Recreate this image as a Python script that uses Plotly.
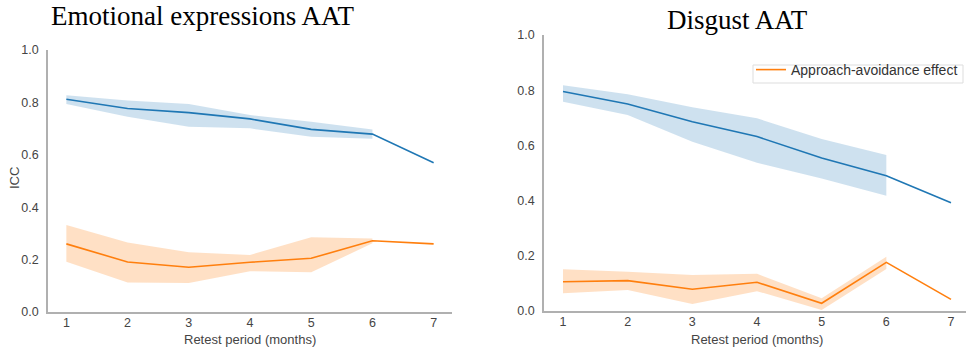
import plotly.graph_objects as go

months = [1, 2, 3, 4, 5, 6, 7]
band_months = [1, 2, 3, 4, 5, 6]

# Emotional expressions AAT
emo_blue = [0.812, 0.777, 0.761, 0.737, 0.697, 0.679, 0.570]
emo_blue_hi = [0.827, 0.807, 0.794, 0.752, 0.726, 0.697]
emo_blue_lo = [0.794, 0.745, 0.707, 0.701, 0.669, 0.661]
emo_orange = [0.260, 0.191, 0.171, 0.190, 0.205, 0.272, 0.260]
emo_orange_hi = [0.332, 0.265, 0.228, 0.218, 0.285, 0.281]
emo_orange_lo = [0.192, 0.113, 0.111, 0.156, 0.152, 0.262]

# Disgust AAT
dis_blue = [0.795, 0.750, 0.686, 0.632, 0.554, 0.490, 0.392]
dis_blue_hi = [0.818, 0.785, 0.738, 0.698, 0.623, 0.565]
dis_blue_lo = [0.758, 0.710, 0.613, 0.537, 0.480, 0.418]
dis_orange = [0.106, 0.110, 0.079, 0.104, 0.028, 0.176, 0.042]
dis_orange_hi = [0.151, 0.142, 0.130, 0.135, 0.046, 0.197]
dis_orange_lo = [0.064, 0.076, 0.025, 0.072, 0.004, 0.152]

yticks = [0.0, 0.2, 0.4, 0.6, 0.8, 1.0]
titles = ["Emotional expressions AAT", "Disgust AAT"]
xlabel = "Retest period (months)"
ylabel = "ICC"
legend_label = "Approach-avoidance effect"

BLUE = "#1f77b4"
ORANGE = "#ff7f0e"
BLUE_FILL = "rgba(31,119,180,0.22)"
ORANGE_FILL = "rgba(255,127,14,0.24)"

fig = go.Figure()


def add_band(xa, ya, lo, hi, fill):
    fig.add_trace(go.Scatter(x=band_months, y=lo, mode="lines", line=dict(width=0),
                             showlegend=False, hoverinfo="skip", xaxis=xa, yaxis=ya))
    fig.add_trace(go.Scatter(x=band_months, y=hi, mode="lines", line=dict(width=0),
                             fill="tonexty", fillcolor=fill, showlegend=False,
                             hoverinfo="skip", xaxis=xa, yaxis=ya))


def add_line(xa, ya, vals, color, show=False, name=None):
    fig.add_trace(go.Scatter(x=months, y=vals, mode="lines", line=dict(color=color, width=1.6),
                             showlegend=show, name=name, xaxis=xa, yaxis=ya))


add_band("x", "y", emo_blue_lo, emo_blue_hi, BLUE_FILL)
add_band("x", "y", emo_orange_lo, emo_orange_hi, ORANGE_FILL)
add_line("x", "y", emo_blue, BLUE)
add_line("x", "y", emo_orange, ORANGE)

add_band("x2", "y2", dis_blue_lo, dis_blue_hi, BLUE_FILL)
add_band("x2", "y2", dis_orange_lo, dis_orange_hi, ORANGE_FILL)
add_line("x2", "y2", dis_blue, BLUE)
add_line("x2", "y2", dis_orange, ORANGE, show=True, name=legend_label)

W, H = 966, 349
tickfont = dict(family="Liberation Sans, Arial, sans-serif", size=12.5, color="#444444")
axis_common = dict(showgrid=False, zeroline=False, showline=True, linecolor="#b0b0b0",
                   linewidth=1.5, ticks="", tickfont=tickfont, automargin=False)

fig.update_layout(
    width=W, height=H,
    autosize=False,
    margin=dict(l=0, r=0, t=0, b=0, pad=0, autoexpand=False),
    paper_bgcolor="white", plot_bgcolor="white",
    xaxis=dict(domain=[48 / W, 452 / W], range=[0.7, 7.3], tickvals=months,
               anchor="y", ticklabelstandoff=-2, **axis_common),
    yaxis=dict(domain=[1 - 312 / H, 1 - 50 / H], range=[0, 1], tickvals=yticks,
               tickformat=".1f", anchor="x", ticklabelstandoff=5, **axis_common),
    xaxis2=dict(domain=[544 / W, 1.0], range=[0.706, 7.232], tickvals=months,
                anchor="y2", ticklabelstandoff=-2, **axis_common),
    yaxis2=dict(domain=[1 - 311 / H, 1 - 35 / H], range=[0, 1], tickvals=yticks,
                tickformat=".1f", anchor="x2", ticklabelstandoff=5, **axis_common),
    legend=dict(x=751 / W, y=1 - 54 / H, xanchor="left", yanchor="top",
                bgcolor="rgba(0,0,0,0)", borderwidth=0,
                font=dict(family="Liberation Sans, Arial, sans-serif", size=14, color="#333333"),
                itemwidth=30, tracegroupgap=0),
    showlegend=True,
)

# legend frame
fig.add_shape(type="rect", xref="paper", yref="paper",
              x0=753 / W, x1=963 / W, y0=1 - 83 / H, y1=1 - 65 / H,
              line=dict(color="#dddddd", width=1), fillcolor="white", layer="above")

title_font = dict(family="Liberation Serif, Times New Roman, serif", size=27, color="black")
label_font = dict(family="Liberation Sans, Arial, sans-serif", size=13, color="#444444")

fig.add_annotation(text=titles[0], x=202 / W, y=1 - 16 / H, xref="paper", yref="paper",
                   xanchor="center", yanchor="middle", showarrow=False, font=title_font)
fig.add_annotation(text=titles[1], x=737 / W, y=1 - 20 / H, xref="paper", yref="paper",
                   xanchor="center", yanchor="middle", showarrow=False, font=title_font)
fig.add_annotation(text=xlabel, x=250 / W, y=1 - 339 / H, xref="paper", yref="paper",
                   xanchor="center", yanchor="middle", showarrow=False, font=label_font)
fig.add_annotation(text=xlabel, x=757 / W, y=1 - 339 / H, xref="paper", yref="paper",
                   xanchor="center", yanchor="middle", showarrow=False, font=label_font)
fig.add_annotation(text=ylabel, x=14 / W, y=1 - 178 / H, xref="paper", yref="paper",
                   xanchor="center", yanchor="middle", showarrow=False, textangle=-90,
                   font=label_font)

fig.write_html("out.html")
